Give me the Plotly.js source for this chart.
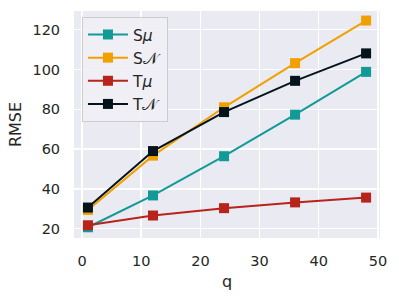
<!DOCTYPE html>
<html>
<head>
<meta charset="utf-8">
<script src="https://cdn.plot.ly/plotly-3.0.1.min.js"></script>
<style>html,body{margin:0;padding:0;background:#fff;}#chart{width:399px;height:299px;}</style>
</head>
<body>
<div id="chart"></div>
<script>
const q = [1, 12, 24, 36, 48];
const seriesNames = ["S<i>\u03bc</i>", "S\ud835\udca9", "T<i>\u03bc</i>", "T\ud835\udca9"];
const sMu = [20.7, 36.7, 56.4, 77.3, 98.8];
const sN = [29.4, 56.7, 81.0, 103.2, 124.6];
const tMu = [21.7, 26.6, 30.3, 33.2, 35.6];
const tN = [30.6, 59.0, 78.6, 94.3, 108.1];
const colors = ["#129a96", "#f2a000", "#b8231b", "#05141c"];
const xTicks = [0, 10, 20, 30, 40, 50];
const yTicks = [20, 40, 60, 80, 100, 120];

const values = [sMu, sN, tMu, tN];
const traces = values.map((v, i) => ({
  x: q, y: v, name: seriesNames[i], type: "scatter", mode: "lines+markers",
  line: {color: colors[i], width: 2},
  marker: {color: colors[i], symbol: "square", size: 10}
}));

const ff = "DejaVu Sans, sans-serif";
const layout = {
  width: 399, height: 299,
  margin: {l: 74, r: 19, t: 11, b: 61},
  paper_bgcolor: "#ffffff",
  plot_bgcolor: "#eaeaf2",
  font: {family: ff, size: 14.5, color: "#262626"},
  showlegend: true,
  legend: {
    x: 0.026, y: 0.974, xanchor: "left", yanchor: "top",
    bgcolor: "rgba(240,240,245,0.9)", bordercolor: "#cccccc", borderwidth: 1,
    itemwidth: 40,
    font: {family: ff, size: 15.5, color: "#262626"}
  },
  xaxis: {
    range: [-1.35, 50.35], tickvals: xTicks, ticktext: xTicks.map(String),
    showgrid: true, gridcolor: "#ffffff", gridwidth: 1.5, zeroline: false,
    showline: false, ticks: "outside", ticklen: 10, tickcolor: "rgba(0,0,0,0)",
    tickfont: {family: ff, size: 14.5, color: "#262626"},
    title: {text: "q", font: {family: ff, size: 16, color: "#262626"}, standoff: 7}
  },
  yaxis: {
    range: [15.3, 129.4], tickvals: yTicks, ticktext: yTicks.map(String),
    showgrid: true, gridcolor: "#ffffff", gridwidth: 1.5, zeroline: false,
    showline: false, ticks: "outside", ticklen: 10, tickcolor: "rgba(0,0,0,0)",
    tickfont: {family: ff, size: 14.5, color: "#262626"},
    title: {text: "RMSE", font: {family: ff, size: 16, color: "#262626"}, standoff: 6}
  }
};
Plotly.newPlot("chart", traces, layout, {displayModeBar: false, staticPlot: true});
</script>
</body>
</html>
